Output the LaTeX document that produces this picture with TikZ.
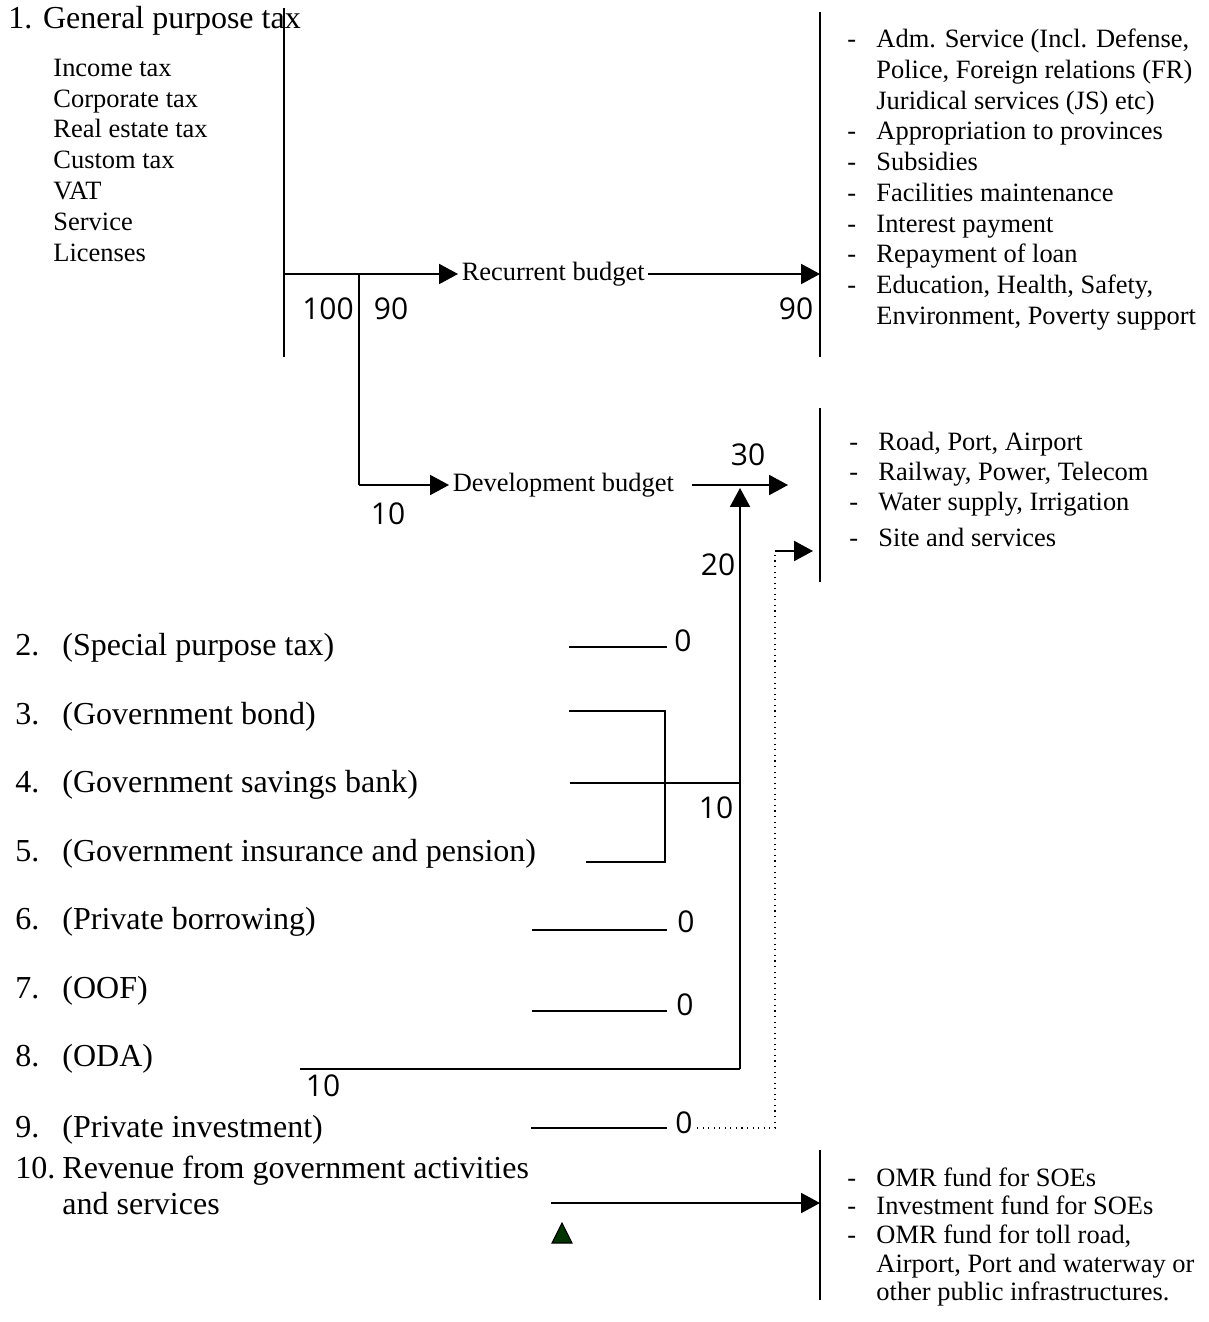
\documentclass[tikz,border=0pt]{standalone}
\usepackage{fontspec}
\setmainfont{Liberation Serif}
\newfontfamily\numfont{Open Sans}
\usetikzlibrary{arrows.meta}
\begin{document}
\begin{tikzpicture}[x=0.45pt,y=-0.45pt,
  txt/.style={font=\fontsize{11.9}{14}\selectfont,inner sep=0pt,anchor=base west},
  big/.style={font=\fontsize{14.4}{17}\selectfont,inner sep=0pt,anchor=base west},
  num/.style={font=\numfont\fontsize{13.5}{16}\selectfont,inner sep=0pt},
  ln/.style={line width=0.8pt},
  arr/.style={ln,-{Triangle[length=8.5pt,width=9pt]}},
  dotline/.style={line width=0.5pt,dotted}]
\useasboundingbox (0,0) rectangle (1209,1322);

% ---- left: general purpose tax
\node[big] (g1) at (8,29) {1. General purpose tax};
\node[txt] (i1) at (53,77) {Income tax};
\node[txt] (i2) at (53,108) {Corporate tax};
\node[txt] (i3) at (53,138) {Real estate tax};
\node[txt] (i4) at (53,169) {Custom tax};
\node[txt] (i5) at (53,200) {VAT};
\node[txt] (i6) at (53,231) {Service};
\node[txt] (i7) at (53,262) {Licenses};

% ---- sources 2-10
\node[big] (n2) at (15,655) {2.};  \node[big] (s2) at (62,655) {(Special purpose tax)};
\node[big] (n3) at (15,724) {3.};  \node[big] (s3) at (62,724) {(Government bond)};
\node[big] (n4) at (15,792) {4.};  \node[big] (s4) at (62,792) {(Government savings bank)};
\node[big] (n5) at (15,861) {5.};  \node[big] (s5) at (62,861) {(Government insurance and pension)};
\node[big] (n6) at (15,929) {6.};  \node[big] (s6) at (62,929) {(Private borrowing)};
\node[big] (n7) at (15,998) {7.};  \node[big] (s7) at (62,998) {(OOF)};
\node[big] (n8) at (15,1066) {8.}; \node[big] (s8) at (62,1066) {(ODA)};
\node[big] (n9) at (15,1137) {9.}; \node[big] (s9) at (62,1137) {(Private investment)};
\node[big] (n10) at (15,1178) {10.}; \node[big] (s10) at (62,1178) {Revenue from government activities};
\node[big] (s10b) at (62,1214) {and services};

% ---- right lists
\foreach \y/\t [count=\i] in {48/{Adm. Service (Incl. Defense,},78.7/{Police, Foreign relations (FR)},109.4/{Juridical services (JS) etc)},140/{Appropriation to provinces},170.8/{Subsidies},201.5/{Facilities maintenance},232.2/{Interest payment},262.9/{Repayment of loan},293.6/{Education, Health, Safety,},324.3/{Environment, Poverty support}}
  \node[txt] (ra\i) at (876,\y) {\t};
\foreach \y [count=\i] in {48,140,170.8,201.5,232.2,262.9,293.6}
  \node[txt] (da\i) at (847,\y) {-};

\node[txt] (rb1) at (878,450) {Road, Port, Airport};
\node[txt] (rb2) at (878,480) {Railway, Power, Telecom};
\node[txt] (rb3) at (878,510) {Water supply, Irrigation};
\node[txt] (rb4) at (878,546) {Site and services};
\foreach \y [count=\i] in {450,480,510,546}
  \node[txt] (db\i) at (849,\y) {-};

\node[txt] (rc1) at (876,1186) {OMR fund for SOEs};
\node[txt] (rc2) at (876,1214) {Investment fund for SOEs};
\node[txt] (rc3) at (876,1243) {OMR fund for toll road,};
\node[txt] (rc4) at (876,1272) {Airport, Port and waterway or};
\node[txt] (rc5) at (876,1300) {other public infrastructures.};
\foreach \y [count=\i] in {1186,1214,1243}
  \node[txt] (dc\i) at (847,\y) {-};

% ---- vertical bars
\coordinate (a1) at (284,8);    \coordinate (a2) at (284,357);
\coordinate (r1t) at (820,12);  \coordinate (r1b) at (820,357);
\coordinate (r2t) at (820,408); \coordinate (r2b) at (820,582);
\coordinate (r3t) at (820,1150);\coordinate (r3b) at (820,1300);
\draw[ln] (a1) -- (a2);
\draw[ln] (r1t) -- (r1b);
\draw[ln] (r2t) -- (r2b);
\draw[ln] (r3t) -- (r3b);

% ---- recurrent budget
\coordinate (j0) at (284,274);
\coordinate (j1) at (359,274);
\coordinate (j2) at (359,485);
\coordinate (rend) at (820,274);
\node[txt,anchor=west,inner xsep=1.5pt] (rb) at (458,274) {Recurrent budget};
\draw[arr] (j0) -- (rb.west);
\draw[arr] (rb.east) -- (rend);
\draw[ln] (j1) -- (j2);

% ---- development budget
\node[txt,anchor=west,inner xsep=1.5pt] (dev) at (449,485) {Development budget};
\draw[arr] (j2) -- (dev.west);
\coordinate (dv1) at (692,485);
\coordinate (dv2) at (788,485);
\draw[arr] (dv1) -- (dv2);
\coordinate (v0) at (740,1069);
\coordinate (v1) at (740,488);
\draw[arr] (v0) -- (v1);

% ---- numbers
\node[num] (k100) at (328,309) {100};
\node[num] (k90a) at (391,309) {90};
\node[num] (k90b) at (796,309) {90};
\node[num] (k30) at (748,455) {30};
\node[num] (k10a) at (388,514) {10};
\node[num] (k20) at (718,565) {20};
\node[num] (k0a) at (683,641) {0};
\node[num] (k10b) at (716,808) {10};
\node[num] (k0b) at (686,922) {0};
\node[num] (k0c) at (685,1005) {0};
\node[num] (k10c) at (323,1086) {10};
\node[num] (k0d) at (684,1123) {0};

% ---- source lines
\coordinate (l2a) at (569,647); \coordinate (l2b) at (667,647);
\draw[ln] (l2a) -- (l2b);
\coordinate (l3a) at (569,711); \coordinate (l3b) at (665,711);
\coordinate (l5a) at (586,862); \coordinate (l5b) at (665,862);
\draw[ln] (l3a) -- (l3b) -- (l5b) -- (l5a);
\coordinate (l4a) at (570,783); \coordinate (l4b) at (740,783);
\draw[ln] (l4a) -- (l4b);
\coordinate (l6a) at (532,930); \coordinate (l6b) at (667,930);
\draw[ln] (l6a) -- (l6b);
\coordinate (l7a) at (532,1011); \coordinate (l7b) at (667,1011);
\draw[ln] (l7a) -- (l7b);
\coordinate (l8a) at (300,1069);
\draw[ln] (l8a) -- (v0);
\coordinate (l9a) at (531,1128); \coordinate (l9b) at (667,1128);
\draw[ln] (l9a) -- (l9b);
\coordinate (p0) at (697,1128); \coordinate (p1) at (775,1128);
\coordinate (p2) at (775,551);  \coordinate (p3) at (813,551);
\draw[dotline] (p0) -- (p1) -- (p2);
\draw[arr] (p2) -- (p3);
\coordinate (l10a) at (551,1203); \coordinate (l10b) at (820,1203);
\draw[arr] (l10a) -- (l10b);

% ---- green triangle
\coordinate (t1) at (552,1243); \coordinate (t2) at (572,1243); \coordinate (t3) at (562,1223);
\draw[line width=0.5pt,fill={rgb,255:red,0;green,51;blue,0}] (t1) -- (t2) -- (t3) -- cycle;
\end{tikzpicture}
\end{document}
